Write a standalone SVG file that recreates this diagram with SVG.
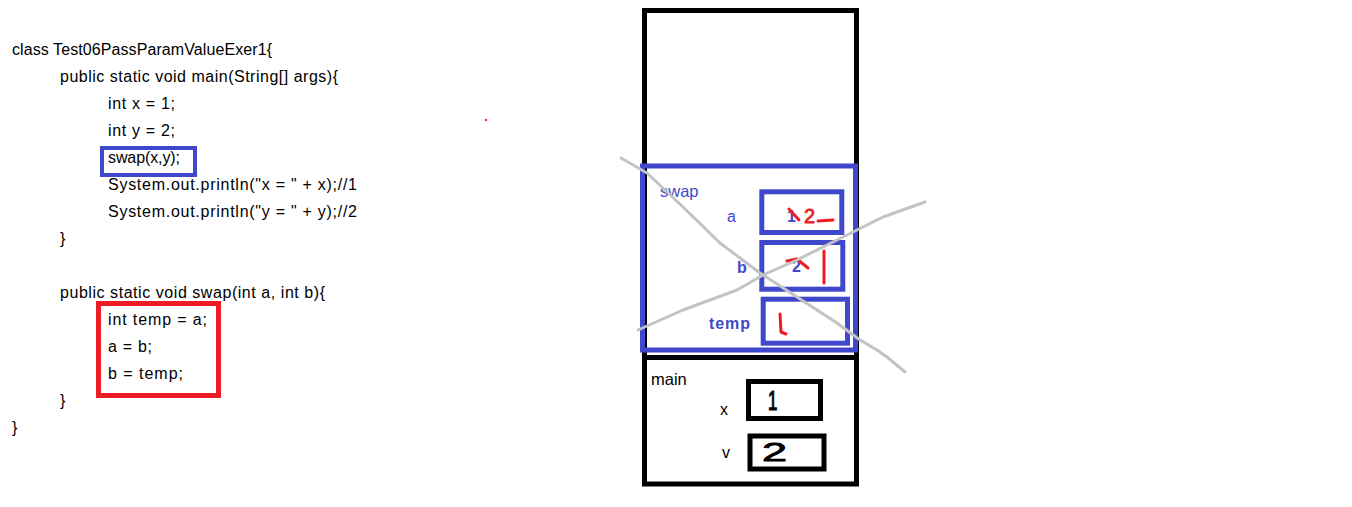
<svg xmlns="http://www.w3.org/2000/svg" width="1352" height="507" viewBox="0 0 1352 507">
<style>
.code{font-family:"Liberation Sans",Arial,sans-serif;font-size:16px;fill:#000}
.lbl{font-family:"Liberation Sans",Arial,sans-serif;font-size:16px}
.blue{fill:#3f48cc}
.bold{font-weight:bold}
.bbox{fill:none;stroke:#3f48cc;stroke-width:5}
.kbox{fill:none;stroke:#000;stroke-width:5}
.rbox{fill:none;stroke:#ed1c24;stroke-width:5}
.hand{font-family:"Liberation Sans",Arial,sans-serif;fill:#000}
.red{fill:#ed1c24}
.scr{fill:none;stroke:#ed1c24;stroke-width:3;stroke-linecap:round;stroke-linejoin:round}
.gray{fill:none;stroke:#c3c3c3;stroke-width:3;stroke-linecap:round;stroke-linejoin:round}
</style>
<rect width="1352" height="507" fill="#fff"/>
<g id="code">
<text class="code" x="12" y="55" textLength="260" lengthAdjust="spacing">class Test06PassParamValueExer1{</text>
<text class="code" x="60" y="82" textLength="278" lengthAdjust="spacing">public static void main(String[] args){</text>
<text class="code" x="108" y="109" textLength="67" lengthAdjust="spacing">int x = 1;</text>
<text class="code" x="108" y="136" textLength="67" lengthAdjust="spacing">int y = 2;</text>
<text class="code" x="108" y="163" textLength="72" lengthAdjust="spacing">swap(x,y);</text>
<text class="code" x="108" y="190" textLength="249" lengthAdjust="spacing">System.out.println("x = " + x);//1</text>
<text class="code" x="108" y="217" textLength="249" lengthAdjust="spacing">System.out.println("y = " + y);//2</text>
<text class="code" x="60" y="244">}</text>
<text class="code" x="60" y="298" textLength="265" lengthAdjust="spacing">public static void swap(int a, int b){</text>
<text class="code" x="108" y="325" textLength="99" lengthAdjust="spacing">int temp = a;</text>
<text class="code" x="108" y="352" textLength="44" lengthAdjust="spacing">a = b;</text>
<text class="code" x="108" y="379" textLength="75" lengthAdjust="spacing">b = temp;</text>
<text class="code" x="60" y="406">}</text>
<text class="code" x="12" y="433">}</text>
</g>
<g id="call-highlight"><rect class="bbox" x="102" y="148" width="93" height="27" style="stroke-width:4"/></g>
<g id="body-highlight"><rect class="rbox" x="98.5" y="303.5" width="120" height="92"/></g>
<rect id="dot" x="485" y="119" width="2" height="2" fill="#ed1c24"/>
<g id="stack"><rect class="kbox" x="644.5" y="10.5" width="212" height="473.5"/></g>
<g id="main-frame">
<line x1="642" y1="357.5" x2="859" y2="357.5" stroke="#000" stroke-width="5"/>
<text class="lbl" x="651" y="385" fill="#000" style="font-size:16.5px">main</text>
<text class="lbl" x="720" y="415" fill="#000">x</text>
<text class="lbl" x="722" y="458" fill="#000">v</text>
</g>
<g id="main-x"><rect class="kbox" x="748.5" y="381.5" width="72" height="37"/>
<text class="hand" transform="translate(768 410) scale(0.6 1)" x="0" y="0" font-size="28" style="stroke:#000;stroke-width:1.2">1</text></g>
<g id="main-y"><rect class="kbox" x="750" y="436" width="74" height="33"/>
<text class="hand" transform="translate(762 461) scale(1.8 1)" x="0" y="0" font-size="25" style="stroke:#000;stroke-width:0.8">2</text></g>
<g id="swap-frame">
<rect class="bbox" x="642.5" y="166" width="213" height="184"/>
<text class="lbl blue" x="660" y="197" style="font-size:16.5px">swap</text>
<text class="lbl blue" x="727" y="222">a</text>
<text class="lbl blue bold" x="737" y="273">b</text>
<text class="lbl blue bold" x="709" y="329" textLength="41" lengthAdjust="spacing">temp</text>
</g>
<g id="swap-a"><rect class="bbox" x="761.8" y="191.8" width="80" height="40.7"/>
<text class="lbl blue bold" x="787" y="222">1</text>
<path class="scr" d="M789 209 L799 220"/>
<text class="red" x="804" y="223" font-family="Liberation Sans,Arial,sans-serif" font-size="20" style="stroke:#ed1c24;stroke-width:0.8">2</text>
<path class="scr" d="M818 221 L833 220"/>
</g>
<g id="swap-b"><rect class="bbox" x="761.8" y="242.5" width="81" height="46.7"/>
<text class="lbl blue bold" x="792" y="272">2</text>
<path class="scr" d="M787 261 L797 259 L808 268"/>
<path class="scr" d="M824 251 L824 283"/>
</g>
<g id="swap-temp"><rect class="bbox" x="763.2" y="299.2" width="84.3" height="44"/>
<path class="scr" d="M780 314 L781 332 L786 334"/>
</g>
<g id="cross-out">
<path class="gray" d="M621 158 L647 173 L683 207 L720 243 L760 273 L797 297 L837 323 L860 340 L877 350 L887 357 L905 372"/>
<path class="gray" d="M638 330 L683 310 L737 290 L763 275 L797 260 L843 237 L883 217 L925 202"/>
</g>
</svg>
